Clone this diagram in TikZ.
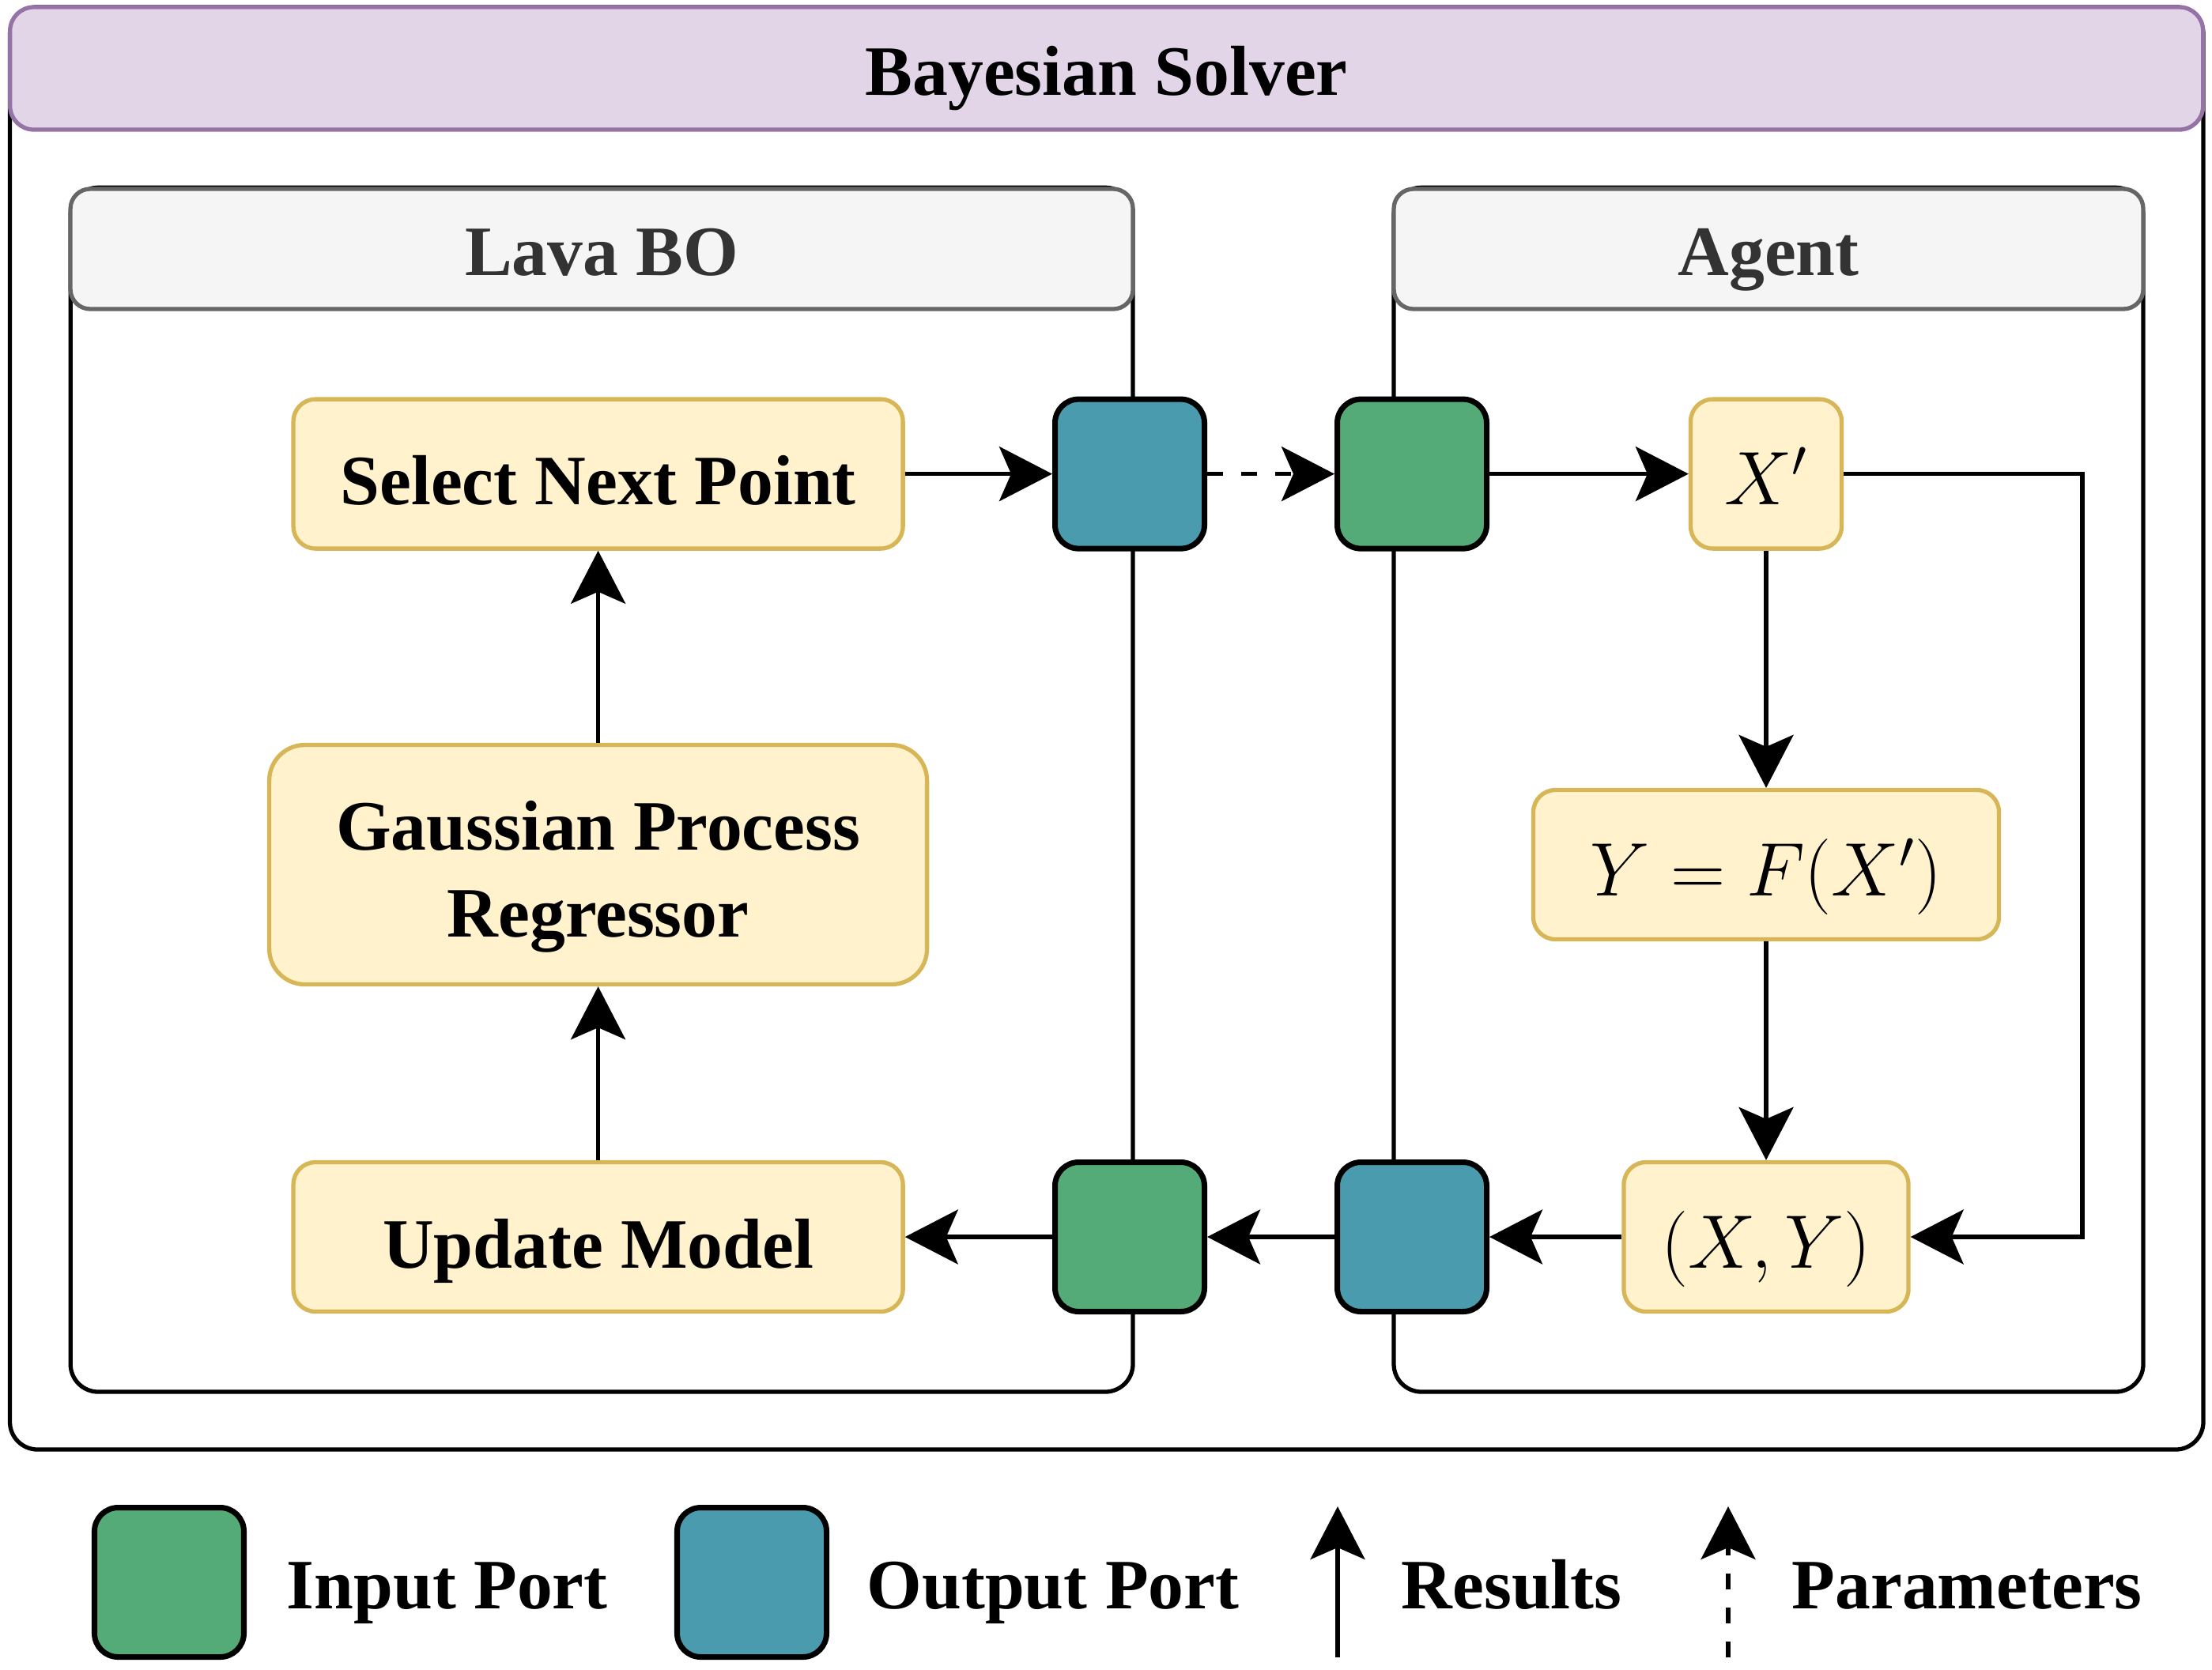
\RequirePackage{fix-cm}
\documentclass[tikz,border=0pt]{standalone}
\usepackage{fontspec}
\setmainfont{Liberation Serif}
\usetikzlibrary{arrows.meta,positioning,calc}
\definecolor{solverfill}{HTML}{E1D5E7}
\definecolor{solverline}{HTML}{9673A6}
\definecolor{headfill}{HTML}{F5F5F5}
\definecolor{headline}{HTML}{666666}
\definecolor{headtext}{HTML}{333333}
\definecolor{stepfill}{HTML}{FFF2CC}
\definecolor{stepline}{HTML}{D6B656}
\definecolor{inportgreen}{HTML}{55AB78}
\definecolor{outportblue}{HTML}{4A9BAE}

\begin{document}
\begin{tikzpicture}[
    font=\fontsize{25.5}{31.3}\selectfont\bfseries,
    frame/.style={draw=black, line width=1.5pt, rounded corners=0.35cm},
    solvertitle/.style={draw=solverline, fill=solverfill, line width=1.5pt, rounded corners=0.3cm, minimum width=27.74cm, minimum height=1.55cm, text height=0.75cm, text depth=0.08cm},
    header/.style={draw=headline, fill=headfill, text=headtext, line width=1.5pt, rounded corners=0.25cm, minimum height=1.52cm, text height=0.75cm, text depth=0.08cm},
    stepbox/.style={draw=stepline, fill=stepfill, line width=1.5pt, rounded corners=0.28cm, minimum width=7.71cm, minimum height=1.89cm, align=center, text height=0.85cm, text depth=0.07cm},
    mathbox/.style={stepbox, font=\fontsize{27.3}{33}\selectfont},
    port/.style={draw=black, line width=2pt, rounded corners=0.3cm, minimum size=1.89cm},
    inport/.style={port, fill=inportgreen},
    outport/.style={port, fill=outportblue},
    legtext/.style={anchor=base west, inner sep=0pt},
    flow/.style={-{Stealth[length=0.67cm, width=0.69cm, inset=0.15cm]}, line width=1.5pt},
    param/.style={flow, dash pattern=on 0.2cm off 0.23cm}]
  \useasboundingbox (0,0) rectangle (27.98,-21.12);

  % containers
  \draw[frame] (0.125,-0.089) rectangle (27.87,-18.34);
  \node[solvertitle] (solver) at (13.997,-0.865) {Bayesian Solver};
  \draw[frame] (0.892,-2.373) rectangle (14.33,-17.61);
  \node[header, minimum width=13.44cm] (lavabo) at (7.611,-3.15) {Lava BO};
  \draw[frame] (17.63,-2.373) rectangle (27.11,-17.61);
  \node[header, minimum width=9.48cm] (agent) at (22.37,-3.15) {Agent};

  % Lava BO side
  \node[stepbox] (select) at (7.566,-5.996) {Select Next Point};
  \node[stepbox, minimum width=8.32cm, minimum height=3.03cm, rounded corners=0.45cm, text height=1.90cm, text depth=0.07cm] (gpr) at (7.566,-10.94) {Gaussian Process\\Regressor};
  \node[stepbox] (update) at (7.566,-15.65) {Update Model};

  % ports
  \node[outport] (outtop) at (14.29,-5.996) {};
  \node[inport] (intop) at (17.86,-5.996) {};
  \node[inport] (inbot) at (14.29,-15.65) {};
  \node[outport] (outbot) at (17.86,-15.65) {};

  % Agent side
  \node[mathbox, minimum width=1.91cm] (xnew) at (22.34,-5.996) {$X'$};
  \node[mathbox, minimum width=5.89cm] (evalf) at (22.34,-10.94) {$Y=F(X')$};
  \node[mathbox, minimum width=3.60cm] (pairs) at (22.34,-15.65) {$(X,Y)$};
  \coordinate (loopturn) at (26.34,-5.996);

  \draw[flow] (select) -- (outtop);
  \draw[param] (outtop) -- (intop);
  \draw[flow] (intop) -- (xnew);
  \draw[flow] (xnew) -- (evalf);
  \draw[flow] (evalf) -- (pairs);
  \draw[flow] (xnew.east) -- (loopturn) |- (pairs.east);
  \draw[flow] (pairs) -- (outbot);
  \draw[flow] (outbot) -- (inbot);
  \draw[flow] (inbot) -- (update);
  \draw[flow] (update) -- (gpr);
  \draw[flow] (gpr) -- (select);

  % legend
  \node[inport] (leginport) at (2.14,-20.02) {};
  \node[legtext] (leginlabel) at (3.62,-20.35) {Input Port};
  \node[outport] (legoutport) at (9.51,-20.02) {};
  \node[legtext] (legoutlabel) at (10.96,-20.35) {Output Port};
  \coordinate (resultsfoot) at (16.92,-20.97);
  \coordinate (resultshead) at (16.92,-19.06);
  \draw[flow] (resultsfoot) -- (resultshead);
  \node[legtext] (resultslabel) at (17.72,-20.35) {Results};
  \coordinate (paramsfoot) at (21.86,-20.97);
  \coordinate (paramshead) at (21.86,-19.06);
  \draw[param] (paramsfoot) -- (paramshead);
  \node[legtext] (paramslabel) at (22.66,-20.35) {Parameters};
\end{tikzpicture}
\end{document}
